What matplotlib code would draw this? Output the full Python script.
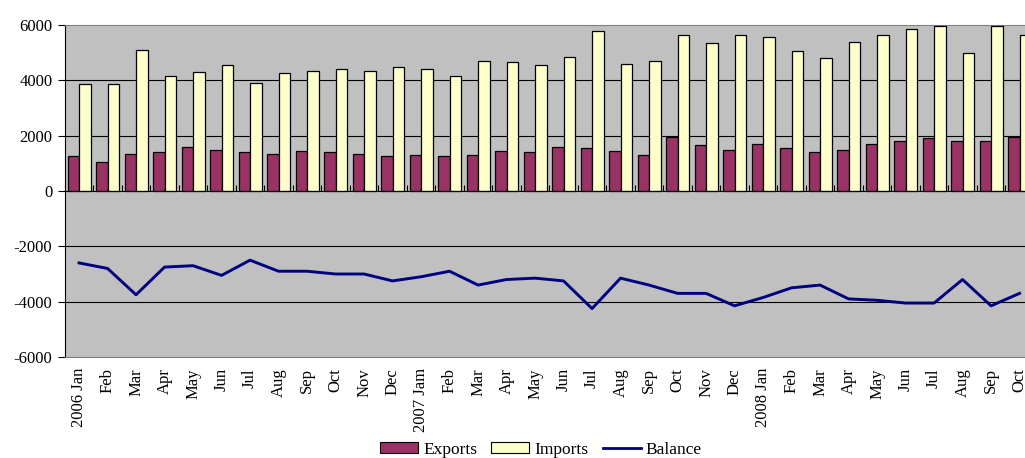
#!/usr/bin/python3
# Monthly exports, imports and trade balance, 2006 Jan - 2008 Oct

import numpy as np
import matplotlib
matplotlib.use("Agg")
import matplotlib.pyplot as plt
from matplotlib.patches import Patch
from matplotlib.lines import Line2D

## Data
months = ["2006 Jan", "Feb", "Mar", "Apr", "May", "Jun", "Jul", "Aug", "Sep", "Oct", "Nov", "Dec",
          "2007 Jam", "Feb", "Mar", "Apr", "May", "Jun", "Jul", "Aug", "Sep", "Oct", "Nov", "Dec",
          "2008 Jan", "Feb", "Mar", "Apr", "May", "Jun", "Jul", "Aug", "Sep", "Oct"]

exports = [1250, 1050, 1350, 1400, 1600, 1500, 1400, 1350, 1450, 1400, 1350, 1250,
           1300, 1250, 1300, 1450, 1400, 1600, 1550, 1450, 1300, 1950, 1650, 1500,
           1700, 1550, 1400, 1500, 1700, 1800, 1900, 1800, 1800, 1950]

imports = [3850, 3850, 5100, 4150, 4300, 4550, 3900, 4250, 4350, 4400, 4350, 4500,
           4400, 4150, 4700, 4650, 4550, 4850, 5800, 4600, 4700, 5650, 5350, 5650,
           5550, 5050, 4800, 5400, 5650, 5850, 5950, 5000, 5950, 5650]

balance = [-2600, -2800, -3750, -2750, -2700, -3050, -2500, -2900, -2900, -3000, -3000, -3250,
           -3100, -2900, -3400, -3200, -3150, -3250, -4250, -3150, -3400, -3700, -3700, -4150,
           -3850, -3500, -3400, -3900, -3950, -4050, -4050, -3200, -4150, -3700]

y_ticks = [-6000, -4000, -2000, 0, 2000, 4000, 6000]

EXP_COLOR = "#993366"
IMP_COLOR = "#FFFFCC"
BAL_COLOR = "#000080"
BG_COLOR = "#C0C0C0"


def main():
    plt.rcParams["font.family"] = ["Liberation Serif", "DejaVu Serif"]
    plt.rcParams["axes.unicode_minus"] = False

    fig = plt.figure(figsize=(10.25, 4.58), dpi=100)
    # plot area runs past the right edge of the picture, as in the original
    ax = fig.add_axes([64.8 / 1025, 101 / 458, 969 / 1025, 332 / 458])
    ax.set_facecolor(BG_COLOR)

    n = len(months)
    x = np.arange(n)
    w = 0.405
    ax.bar(x - w / 2, exports, width=w, color=EXP_COLOR, edgecolor="black", linewidth=0.9, zorder=3)
    ax.bar(x + w / 2, imports, width=w, color=IMP_COLOR, edgecolor="black", linewidth=0.9, zorder=3)
    ax.plot(x, balance, color=BAL_COLOR, linewidth=2.1, zorder=4)

    ax.set_xlim(-0.5, n - 0.5)
    ax.set_ylim(-6000, 6000)

    # gridlines
    for v in y_ticks:
        if v not in (0, 6000, -6000):
            ax.axhline(v, color="black", linewidth=0.8, zorder=1)

    ax.set_yticks(y_ticks)
    ax.set_yticklabels([str(v) for v in y_ticks])
    ax.tick_params(axis="y", direction="out", length=5, width=0.8, pad=4, labelsize=12)

    ax.set_xticks(x)
    ax.set_xticklabels(months, rotation=90, fontsize=12)
    ax.tick_params(axis="x", length=0, pad=8)

    ax.spines["left"].set_color("black")
    ax.spines["top"].set_color("#808080")
    ax.spines["bottom"].set_color("#808080")
    ax.spines["right"].set_visible(False)

    # category axis sitting on the zero line
    zero_ax = ax.secondary_xaxis(0.5)
    zero_ax.set_zorder(5)
    zero_ax.set_xticks(np.arange(n + 1) - 0.5)
    zero_ax.set_xticklabels([])
    zero_ax.tick_params(direction="out", length=4, width=0.8)
    zero_ax.spines["bottom"].set_color("black")
    zero_ax.spines["bottom"].set_linewidth(1.0)

    handles = [Patch(facecolor=EXP_COLOR, edgecolor="black", linewidth=0.8),
               Patch(facecolor=IMP_COLOR, edgecolor="black", linewidth=0.8),
               Line2D([0], [0], color=BAL_COLOR, linewidth=2.0)]
    fig.legend(handles, ["Exports", "Imports", "Balance"], loc="center", ncol=3,
               bbox_to_anchor=(541 / 1025, 1 - 450 / 458), frameon=False, fontsize=12.5,
               handlelength=2.2, handleheight=0.6, handletextpad=0.3, columnspacing=0.8,
               borderpad=0.1)

    fig.savefig("out.png", dpi=100)


if __name__ == '__main__':
    main()
